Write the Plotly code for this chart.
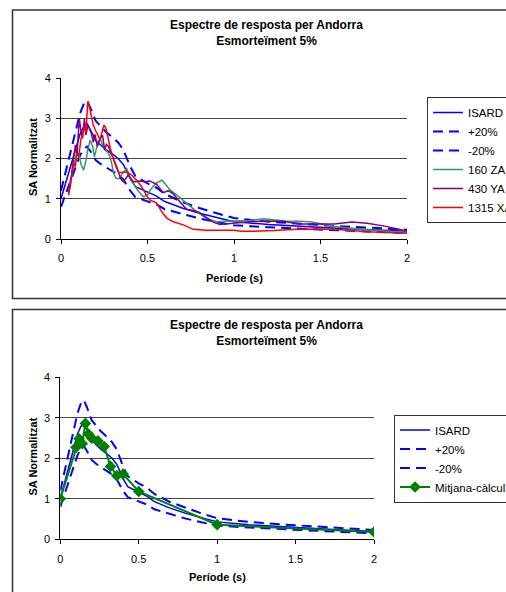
import plotly.graph_objects as go

W, H = 506, 592

# ---------------- data ----------------
T_isard = [0, 0.02, 0.05, 0.08, 0.11, 0.13, 0.15, 0.17, 0.2, 0.23, 0.26, 0.3, 0.33, 0.36,
           0.4, 0.43, 0.47, 0.5, 0.55, 0.6, 0.7, 0.8, 0.9, 1.0, 1.2, 1.4, 1.6, 1.8, 2.0]
isard = [1.0, 1.3, 1.75, 2.2, 2.6, 2.78, 2.87, 2.72, 2.45, 2.33, 2.22, 2.1, 2.0, 1.85,
         1.5, 1.3, 1.22, 1.15, 1.07, 0.93, 0.77, 0.64, 0.53, 0.43, 0.36, 0.31, 0.27, 0.23, 0.19]
plus20 = [1.2, 1.56, 2.1, 2.64, 3.12, 3.34, 3.44, 3.26, 2.94, 2.8, 2.66, 2.52, 2.4, 2.22,
          1.8, 1.56, 1.46, 1.38, 1.28, 1.12, 0.92, 0.77, 0.64, 0.52, 0.43, 0.37, 0.32, 0.28, 0.23]
minus20 = [0.8, 1.04, 1.4, 1.76, 2.08, 2.22, 2.3, 2.18, 1.96, 1.86, 1.78, 1.68, 1.6, 1.48,
           1.2, 1.04, 0.98, 0.92, 0.86, 0.74, 0.62, 0.51, 0.42, 0.34, 0.29, 0.25, 0.22, 0.18, 0.15]

T_za = [0.044, 0.064, 0.079, 0.092, 0.104, 0.117, 0.131, 0.145, 0.156, 0.169, 0.183, 0.193,
        0.214, 0.227, 0.24, 0.256, 0.275, 0.291, 0.305, 0.318, 0.335, 0.355, 0.38, 0.4, 0.418,
        0.445, 0.476, 0.5, 0.53, 0.555, 0.585, 0.63, 0.67, 0.727, 0.784, 0.842, 0.9, 0.95, 1.0,
        1.09, 1.17, 1.24, 1.3, 1.38, 1.44, 1.5, 1.58, 1.68, 1.77, 1.88, 2.0]
za160 = [1.09, 1.67, 1.92, 2.17, 2.1, 1.84, 1.71, 1.96, 2.25, 2.46, 2.3, 2.04, 2.41, 2.5,
         2.33, 2.21, 2.13, 1.92, 1.63, 1.51, 1.5, 1.63, 1.75, 1.5, 1.38, 1.2, 1.05, 1.1, 1.3,
         1.4, 1.46, 1.22, 1.09, 0.89, 0.68, 0.51, 0.43, 0.44, 0.45, 0.46, 0.5, 0.47, 0.45, 0.44,
         0.43, 0.38, 0.31, 0.27, 0.23, 0.2, 0.17]

T_ya = [0.044, 0.054, 0.065, 0.075, 0.083, 0.092, 0.1, 0.106, 0.116, 0.125, 0.135, 0.144,
        0.156, 0.167, 0.177, 0.187, 0.196, 0.21, 0.227, 0.24, 0.252, 0.262, 0.275, 0.291,
        0.305, 0.324, 0.345, 0.36, 0.389, 0.418, 0.457, 0.486, 0.514, 0.553, 0.591, 0.62,
        0.649, 0.688, 0.727, 0.765, 0.8, 0.842, 0.88, 0.919, 0.996, 1.09, 1.19, 1.28, 1.38,
        1.5, 1.58, 1.68, 1.77, 1.87, 2.0]
ya430 = [1.17, 1.3, 1.75, 2.1, 2.33, 2.08, 2.6, 2.99, 2.66, 2.5, 2.99, 2.58, 2.83, 2.7, 2.6,
         2.4, 2.6, 2.3, 2.5, 2.58, 2.21, 2.35, 2.3, 2.1, 1.98, 1.77, 1.5, 1.42, 1.59, 1.42,
         1.44, 1.42, 1.44, 1.36, 1.15, 1.2, 1.12, 0.92, 0.74, 0.71, 0.66, 0.53, 0.42, 0.36,
         0.4, 0.43, 0.45, 0.44, 0.37, 0.36, 0.37, 0.42, 0.39, 0.32, 0.2]

T_xa = [0.044, 0.054, 0.064, 0.073, 0.083, 0.092, 0.102, 0.116, 0.125, 0.135, 0.144, 0.155,
        0.164, 0.175, 0.185, 0.199, 0.214, 0.226, 0.237, 0.249, 0.26, 0.272, 0.285, 0.299,
        0.314, 0.333, 0.351, 0.38, 0.408, 0.437, 0.466, 0.495, 0.514, 0.553, 0.582, 0.611,
        0.649, 0.707, 0.765, 0.84, 0.94, 1.0, 1.04, 1.1, 1.23, 1.39, 1.58, 1.77, 2.0]
xa1315 = [1.09, 1.46, 1.6, 1.88, 1.8, 2.13, 2.05, 2.5, 2.58, 2.79, 2.66, 3.42, 3.3, 3.05,
          2.85, 2.7, 2.58, 2.46, 2.66, 2.83, 2.75, 2.5, 2.25, 2.04, 1.84, 1.65, 1.65, 1.67,
          1.59, 1.46, 1.3, 1.08, 0.97, 0.89, 0.68, 0.52, 0.43, 0.35, 0.24, 0.22, 0.23, 0.22,
          0.19, 0.19, 0.21, 0.25, 0.24, 0.18, 0.14]

T_mitjana = [0, 0.1, 0.12, 0.14, 0.16, 0.18, 0.2, 0.24, 0.28, 0.32, 0.36, 0.4, 0.5, 1.0, 2.0]
mitjana = [1.0, 2.27, 2.48, 2.36, 2.86, 2.6, 2.5, 2.43, 2.29, 1.8, 1.57, 1.61, 1.18, 0.36, 0.18]

x_ticks = [0, 0.5, 1, 1.5, 2]
y_ticks = [0, 1, 2, 3, 4]
title_text = "<b>Espectre de resposta per Andorra<br>Esmorteïment 5%</b>"
x_title = "<b>Període (s)</b>"
y_title = "<b>SA Normalitzat</b>"

FONT = "Liberation Sans, Arial, sans-serif"
BLUE = "#0000FF"
DASH = "10px,6px"

def px(x):
    return x / W

def py(y):
    return 1 - y / H

fig = go.Figure()

# ---- top panel ----
fig.add_trace(go.Scatter(x=T_isard, y=isard, name="ISARD", mode="lines",
                         line=dict(color=BLUE, width=1.5), xaxis="x", yaxis="y", legend="legend"))
fig.add_trace(go.Scatter(x=T_isard, y=plus20, name="+20%", mode="lines",
                         line=dict(color=BLUE, width=2, dash=DASH), xaxis="x", yaxis="y", legend="legend"))
fig.add_trace(go.Scatter(x=T_isard, y=minus20, name="-20%", mode="lines",
                         line=dict(color=BLUE, width=2, dash=DASH), xaxis="x", yaxis="y", legend="legend"))
fig.add_trace(go.Scatter(x=T_za, y=za160, name="160 ZA", mode="lines",
                         line=dict(color="#339966", width=1.5), xaxis="x", yaxis="y", legend="legend"))
fig.add_trace(go.Scatter(x=T_ya, y=ya430, name="430 YA", mode="lines",
                         line=dict(color="#800080", width=1.5), xaxis="x", yaxis="y", legend="legend"))
fig.add_trace(go.Scatter(x=T_xa, y=xa1315, name="1315 XA", mode="lines",
                         line=dict(color="#FF0000", width=1.5), xaxis="x", yaxis="y", legend="legend"))

# ---- bottom panel ----
fig.add_trace(go.Scatter(x=T_isard, y=isard, name="ISARD", mode="lines",
                         line=dict(color=BLUE, width=1.5), xaxis="x2", yaxis="y2", legend="legend2"))
fig.add_trace(go.Scatter(x=T_isard, y=plus20, name="+20%", mode="lines",
                         line=dict(color=BLUE, width=2, dash=DASH), xaxis="x2", yaxis="y2", legend="legend2"))
fig.add_trace(go.Scatter(x=T_isard, y=minus20, name="-20%", mode="lines",
                         line=dict(color=BLUE, width=2, dash=DASH), xaxis="x2", yaxis="y2", legend="legend2"))
fig.add_trace(go.Scatter(x=T_mitjana, y=mitjana, name="Mitjana-càlcul", mode="lines+markers",
                         line=dict(color="#008000", width=2),
                         marker=dict(symbol="diamond", size=9, color="#008000"),
                         xaxis="x2", yaxis="y2", legend="legend2"))

axis_common = dict(range=[0, 2], tickvals=x_ticks, showline=True, linecolor="black", linewidth=1,
                   ticks="outside", ticklen=4, tickcolor="black", showgrid=False, zeroline=False,
                   tickfont=dict(family=FONT, size=11, color="black"), ticklabelstandoff=5,
                   fixedrange=True)
yaxis_common = dict(range=[0, 4], tickvals=y_ticks, showline=True, linecolor="black", linewidth=1,
                    ticks="outside", ticklen=4, tickcolor="black", showgrid=True,
                    gridcolor="#444444", gridwidth=1, zeroline=False,
                    tickfont=dict(family=FONT, size=11, color="black"), ticklabelstandoff=3,
                    fixedrange=True)

legend_common = dict(xanchor="left", yanchor="top", bgcolor="white", bordercolor="#333333",
                     borderwidth=1, font=dict(family=FONT, size=11.5, color="black"),
                     tracegroupgap=0, itemwidth=30)

def ann(text, x, y, size, angle=0):
    return dict(text=text, x=px(x), y=py(y), xref="paper", yref="paper",
                xanchor="center", yanchor="middle", textangle=angle,
                showarrow=False, font=dict(family=FONT, size=size, color="black"))

fig.update_layout(
    width=W, height=H,
    margin=dict(l=0, r=0, t=0, b=0, autoexpand=False),
    paper_bgcolor="white", plot_bgcolor="white",
    font=dict(family=FONT, size=11, color="black"),
    xaxis=dict(domain=[px(61), px(407)], anchor="y", **axis_common),
    yaxis=dict(domain=[py(239), py(78)], anchor="x", **yaxis_common),
    xaxis2=dict(domain=[px(60.3), px(374)], anchor="y2", **axis_common),
    yaxis2=dict(domain=[py(539.3), py(377.3)], anchor="x2", **yaxis_common),
    legend=dict(x=px(427), y=py(97), **legend_common),
    legend2=dict(x=px(394), y=py(414.5), **legend_common),
    showlegend=True,
    shapes=[
        dict(type="rect", xref="paper", yref="paper", x0=px(12.5), x1=1.2, y0=py(298.5), y1=py(10),
             line=dict(color="#333333", width=1.5), layer="below"),
        dict(type="rect", xref="paper", yref="paper", x0=px(12.5), x1=1.2, y0=-0.2, y1=py(309.5),
             line=dict(color="#333333", width=1.5), layer="below"),
    ],
    annotations=[
        ann(title_text, 266, 33.5, 12),
        ann(title_text, 266, 333, 12),
        ann(x_title, 234, 278, 11),
        ann(x_title, 217, 577, 11),
        ann(y_title, 32.5, 157.5, 11, -90),
        ann(y_title, 32.5, 457, 11, -90),
    ],
)

fig.write_html("out.html", config={"displayModeBar": False},
               post_script="document.body.style.margin='0px';document.body.style.overflow='hidden';")
